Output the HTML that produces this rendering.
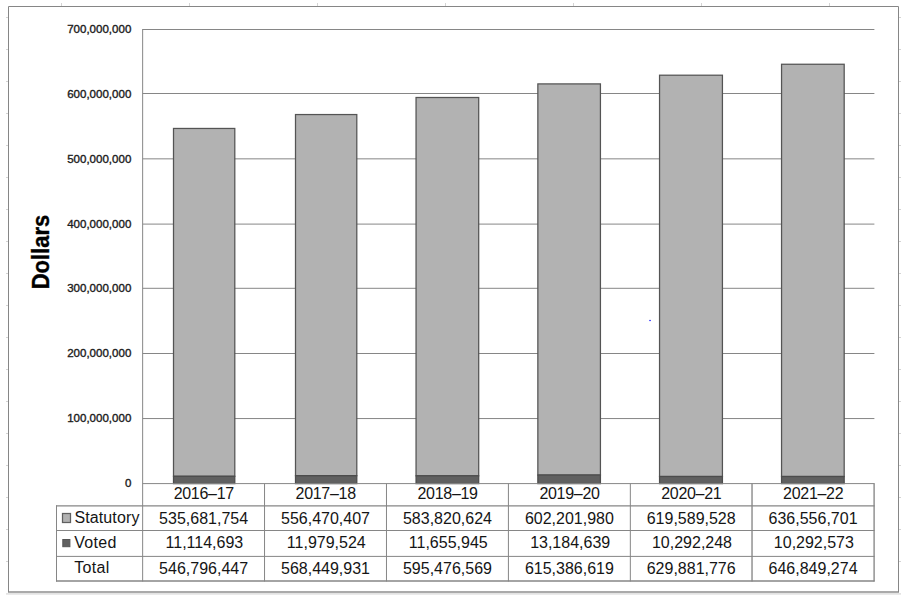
<!DOCTYPE html>
<html><head><meta charset="utf-8"><title>Chart</title>
<style>html,body{margin:0;padding:0;background:#fff;}body{width:906px;height:599px;position:relative;overflow:hidden;font-family:"Liberation Sans",sans-serif;}</style>
</head><body>
<svg width="906" height="599" viewBox="0 0 906 599" style="display:block;position:absolute;left:0;top:0" font-family="Liberation Sans, sans-serif">
<rect x="0" y="0" width="906" height="599" fill="#fff"/>
<g fill="#d4d4d4" shape-rendering="crispEdges"><rect x="61" y="3" width="1" height="3"/><rect x="189" y="3" width="1" height="3"/><rect x="317" y="3" width="1" height="3"/><rect x="445" y="3" width="1" height="3"/><rect x="573" y="3" width="1" height="3"/><rect x="701" y="3" width="1" height="3"/><rect x="829" y="3" width="1" height="3"/><rect x="6" y="17" width="2" height="1"/><rect x="899" y="17" width="2" height="1"/><rect x="6" y="49" width="2" height="1"/><rect x="899" y="49" width="2" height="1"/><rect x="6" y="81" width="2" height="1"/><rect x="899" y="81" width="2" height="1"/><rect x="6" y="113" width="2" height="1"/><rect x="899" y="113" width="2" height="1"/><rect x="6" y="145" width="2" height="1"/><rect x="899" y="145" width="2" height="1"/><rect x="6" y="177" width="2" height="1"/><rect x="899" y="177" width="2" height="1"/><rect x="6" y="209" width="2" height="1"/><rect x="899" y="209" width="2" height="1"/><rect x="6" y="241" width="2" height="1"/><rect x="899" y="241" width="2" height="1"/><rect x="6" y="273" width="2" height="1"/><rect x="899" y="273" width="2" height="1"/><rect x="6" y="305" width="2" height="1"/><rect x="899" y="305" width="2" height="1"/><rect x="6" y="337" width="2" height="1"/><rect x="899" y="337" width="2" height="1"/><rect x="6" y="369" width="2" height="1"/><rect x="899" y="369" width="2" height="1"/><rect x="6" y="401" width="2" height="1"/><rect x="899" y="401" width="2" height="1"/><rect x="6" y="433" width="2" height="1"/><rect x="899" y="433" width="2" height="1"/><rect x="6" y="465" width="2" height="1"/><rect x="899" y="465" width="2" height="1"/><rect x="6" y="497" width="2" height="1"/><rect x="899" y="497" width="2" height="1"/><rect x="6" y="529" width="2" height="1"/><rect x="899" y="529" width="2" height="1"/><rect x="6" y="561" width="2" height="1"/><rect x="899" y="561" width="2" height="1"/></g>
<rect x="6" y="593.2" width="895" height="1.4" fill="#dcdcdc"/>
<path d="M8.5 592 V6.5 H898.5 V592" fill="none" stroke="#868686" stroke-width="1"/>
<rect x="8" y="591.3" width="891" height="1.4" fill="#868686"/>
<g stroke="#868686" stroke-width="1"><line x1="142.65" y1="418.55" x2="874.40" y2="418.55"/><line x1="142.65" y1="353.50" x2="874.40" y2="353.50"/><line x1="142.65" y1="288.30" x2="874.40" y2="288.30"/><line x1="142.65" y1="224.10" x2="874.40" y2="224.10"/><line x1="142.65" y1="158.85" x2="874.40" y2="158.85"/><line x1="142.65" y1="93.50" x2="874.40" y2="93.50"/><line x1="142.65" y1="29.50" x2="874.40" y2="29.50"/></g>
<rect x="173.50" y="128.45" width="61.30" height="347.85" fill="#b2b2b2" stroke="#545454" stroke-width="1.25"/><rect x="173.50" y="476.30" width="61.30" height="7.30" fill="#606060" stroke="#4c4c4c" stroke-width="1.25"/><rect x="295.50" y="114.55" width="61.30" height="361.15" fill="#b2b2b2" stroke="#545454" stroke-width="1.25"/><rect x="295.50" y="475.70" width="61.30" height="7.90" fill="#606060" stroke="#4c4c4c" stroke-width="1.25"/><rect x="416.05" y="97.50" width="62.65" height="378.30" fill="#b2b2b2" stroke="#545454" stroke-width="1.25"/><rect x="416.05" y="475.80" width="62.65" height="7.80" fill="#606060" stroke="#4c4c4c" stroke-width="1.25"/><rect x="537.85" y="83.90" width="62.58" height="391.15" fill="#b2b2b2" stroke="#545454" stroke-width="1.25"/><rect x="537.85" y="475.05" width="62.58" height="8.55" fill="#606060" stroke="#4c4c4c" stroke-width="1.25"/><rect x="659.55" y="75.20" width="62.88" height="401.30" fill="#b2b2b2" stroke="#545454" stroke-width="1.25"/><rect x="659.55" y="476.50" width="62.88" height="7.10" fill="#606060" stroke="#4c4c4c" stroke-width="1.25"/><rect x="781.55" y="64.25" width="62.64" height="412.25" fill="#b2b2b2" stroke="#545454" stroke-width="1.25"/><rect x="781.55" y="476.50" width="62.64" height="7.10" fill="#606060" stroke="#4c4c4c" stroke-width="1.25"/>
<g stroke="#868686" stroke-width="1"><line x1="142.65" y1="29.0" x2="142.65" y2="581.5" stroke-width="1"/><line x1="264.54" y1="483.6" x2="264.54" y2="581.5" stroke-width="1"/><line x1="386.48" y1="483.6" x2="386.48" y2="581.5" stroke-width="1"/><line x1="508.41" y1="483.6" x2="508.41" y2="581.5" stroke-width="1"/><line x1="630.34" y1="483.6" x2="630.34" y2="581.5" stroke-width="1"/><line x1="752.03" y1="483.6" x2="752.03" y2="581.5" stroke-width="1.35"/><line x1="874.10" y1="483.6" x2="874.10" y2="581.5" stroke-width="1.35"/><line x1="56.5" y1="505.4" x2="56.5" y2="581.5"/><line x1="56" y1="505.9" x2="874.60" y2="505.9" stroke-width="1.35"/><line x1="56" y1="530.5" x2="874.60" y2="530.5" stroke-width="1"/><line x1="56" y1="556.4" x2="874.60" y2="556.4" stroke-width="1"/><line x1="56" y1="581.0" x2="874.60" y2="581.0" stroke-width="1.35"/></g>
<line x1="142.65" y1="483.6" x2="874.60" y2="483.6" stroke="#868686" stroke-width="1"/>
<g font-size="11" fill="#1c1c1c" stroke="#1c1c1c" stroke-width="0.35" text-anchor="end"><text transform="translate(131.3,487.00) scale(1.05,1)">0</text><text transform="translate(131.3,422.13) scale(1.05,1)">100,000,000</text><text transform="translate(131.3,357.26) scale(1.05,1)">200,000,000</text><text transform="translate(131.3,292.39) scale(1.05,1)">300,000,000</text><text transform="translate(131.3,227.52) scale(1.05,1)">400,000,000</text><text transform="translate(131.3,162.65) scale(1.05,1)">500,000,000</text><text transform="translate(131.3,97.78) scale(1.05,1)">600,000,000</text><text transform="translate(131.3,32.91) scale(1.05,1)">700,000,000</text></g>
<text transform="translate(48.9,252) rotate(-90) scale(1,1.05)" font-size="22" font-weight="bold" text-anchor="middle" fill="#000" stroke="#000" stroke-width="0.35">Dollars</text>
<g font-size="16" fill="#151515" text-anchor="middle"><text x="203.75" y="499.0" letter-spacing="-0.3">2016–17</text><text x="203.60" y="523.7">535,681,754</text><text x="204.40" y="548.4">11,114,693</text><text x="203.60" y="573.9">546,796,447</text><text x="325.66" y="499.0" letter-spacing="-0.3">2017–18</text><text x="325.51" y="523.7">556,470,407</text><text x="326.31" y="548.4">11,979,524</text><text x="325.51" y="573.9">568,449,931</text><text x="447.60" y="499.0" letter-spacing="-0.3">2018–19</text><text x="447.45" y="523.7">583,820,624</text><text x="448.25" y="548.4">11,655,945</text><text x="447.45" y="573.9">595,476,569</text><text x="569.52" y="499.0" letter-spacing="-0.3">2019–20</text><text x="569.38" y="523.7">602,201,980</text><text x="570.17" y="548.4">13,184,639</text><text x="569.38" y="573.9">615,386,619</text><text x="691.33" y="499.0" letter-spacing="-0.3">2020–21</text><text x="691.18" y="523.7">619,589,528</text><text x="691.98" y="548.4">10,292,248</text><text x="691.18" y="573.9">629,881,776</text><text x="813.22" y="499.0" letter-spacing="-0.3">2021–22</text><text x="813.07" y="523.7">636,556,701</text><text x="813.87" y="548.4">10,292,573</text><text x="813.07" y="573.9">646,849,274</text></g>
<g font-size="16" fill="#151515" letter-spacing="0.3"><text x="74.4" y="522.6" letter-spacing="0.12">Statutory</text><text x="74.2" y="548.0">Voted</text><text x="74.2" y="572.7">Total</text></g>
<rect x="62.5" y="513.5" width="8" height="9" fill="#b2b2b2" stroke="#606060" stroke-width="1.25"/>
<rect x="62.8" y="539.5" width="7.1" height="7.2" fill="#606060" stroke="#555" stroke-width="1"/>
<rect x="649.2" y="319.9" width="1.7" height="1.2" fill="#3c3cff"/>
</svg>
</body></html>
